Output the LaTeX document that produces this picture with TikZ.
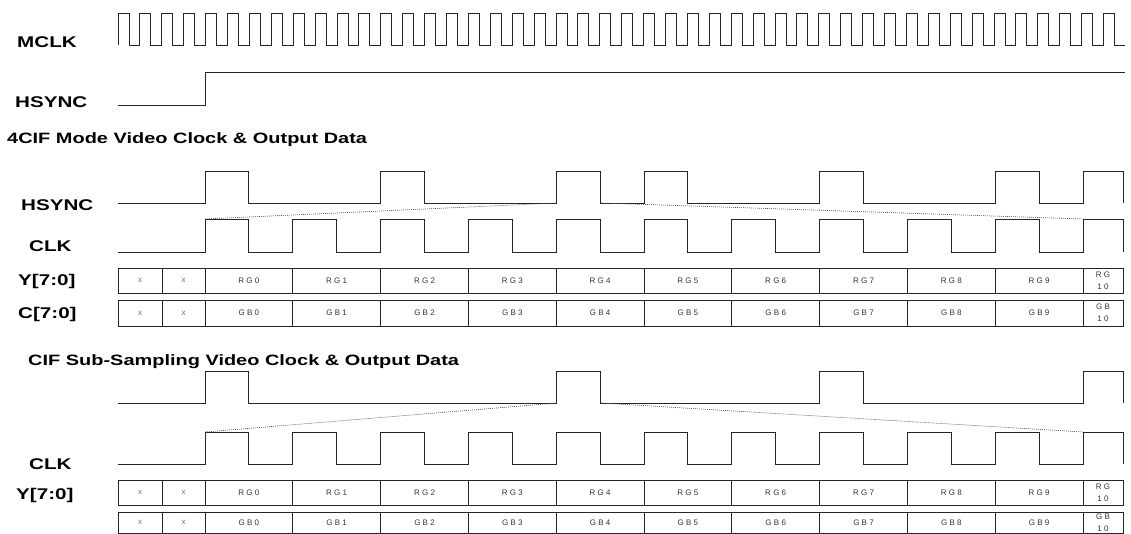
\documentclass[tikz,border=0pt]{standalone}
\usepackage{fontspec}
\usepackage{tikz}
\usetikzlibrary{positioning}
\newfontfamily\sigfont[FakeStretch=1.33]{Liberation Sans}
\newfontfamily\cellfont[LetterSpace=28]{Liberation Sans}
\newcommand{\hT}{43.9}% half CLK period
% one row of data cells: name, top, bottom, prefix
\newcommand{\datarow}[4]{%
  \node[dont, minimum width=44, minimum height=#3-#2] (#1-xa) at (118,{(#2+#3)/2}) {x};
  \node[dont, minimum width=43, minimum height=#3-#2] (#1-xb) at (162,{(#2+#3)/2}) {x};
  \foreach \k in {0,...,9}
    \node[cell, minimum width=2*\hT, minimum height=#3-#2] (#1-\k) at ({205+2*\hT*\k},{(#2+#3)/2}) {#4\k};
  \node[cell, minimum width=40, minimum height=#3-#2] (#1-10) at (1083,{(#2+#3)/2}) {#4\\10};}

\begin{document}
\begin{tikzpicture}[x=1pt, y=-1pt,
	wave/.style={draw=black!85, line width=0.9pt},
	guide/.style={draw=black!70, dash pattern=on 1pt off 1pt, line width=0.6pt},
	sig/.style={anchor=west, inner sep=0pt, font=\sigfont\bfseries\fontsize{15.5}{18}\selectfont},
	head/.style={sig, font=\sigfont\bfseries\fontsize{15}{18}\selectfont},
	cell/.style={draw=black!85, line width=0.9pt, anchor=west, inner sep=0pt, outer sep=0pt,
		align=center, text=black!80, font=\cellfont\fontsize{8}{12}\selectfont},
	dont/.style={cell, text=black!55}]

	\useasboundingbox (0,0) rectangle (1131,534);

	% master clock and sync
	\node[sig] (mclk) at (17,42) {MCLK};
	\node[sig] (hs0) at (15,102) {HSYNC};
	\draw[wave] (118,45) \foreach \m in {0,...,45} { -- ({118+21.9*\m},45) |- ({118+21.9*\m+10.95},13) -- ({118+21.9*\m+10.95},45) } -- (1125,45);
	\draw[wave] (118,105) -- (205,105) |- (1125,72);

	% 4CIF mode
	\node[head] (t4cif) at (7,140) {4CIF Mode Video Clock \& Output Data};
	\node[sig] (hs1) at (21,205) {HSYNC};
	\node[sig] (clk1) at (29,246) {CLK};
	\node[sig] (y1) at (18,281) {Y[7:0]};
	\node[sig] (c1) at (18,314) {C[7:0]};
	\draw[wave] (118,203) \foreach \a in {0,4,8,10,14,18} { -- ({205+\hT*\a},203) |- ({205+\hT*(\a+1)},171) -- ({205+\hT*(\a+1)},203) } -- (1083,203) |- (1123,171) -- (1123,203);
	\draw[wave] (118,252) \foreach \a in {0,2,...,18} { -- ({205+\hT*\a},252) |- ({205+\hT*(\a+1)},219) -- ({205+\hT*(\a+1)},252) } -- (1083,252) |- (1123,219) -- (1123,252);
	\draw[guide] (205,219) -- (557,203);
	\draw[guide] (601,203) -- (1083,219);
	\datarow{y4}{268}{293}{RG}
	\datarow{c4}{300}{326}{GB}

	% CIF sub-sampling
	\node[head] (tcif) at (28,362) {CIF Sub-Sampling Video Clock \& Output Data};
	\node[sig] (clk2) at (29,464) {CLK};
	\node[sig] (y2) at (16,495) {Y[7:0]};
	\draw[wave] (118,403) \foreach \a in {0,8,14} { -- ({205+\hT*\a},403) |- ({205+\hT*(\a+1)},371) -- ({205+\hT*(\a+1)},403) } -- (1083,403) |- (1123,371) -- (1123,403);
	\draw[wave] (118,464) \foreach \a in {0,2,...,18} { -- ({205+\hT*\a},464) |- ({205+\hT*(\a+1)},432) -- ({205+\hT*(\a+1)},464) } -- (1083,464) |- (1123,432) -- (1123,464);
	\draw[guide] (205,432) -- (557,403);
	\draw[guide] (601,403) -- (1083,432);
	\datarow{y2}{480}{505}{RG}
	\datarow{c2}{512}{533}{GB}
\end{tikzpicture}
\end{document}
